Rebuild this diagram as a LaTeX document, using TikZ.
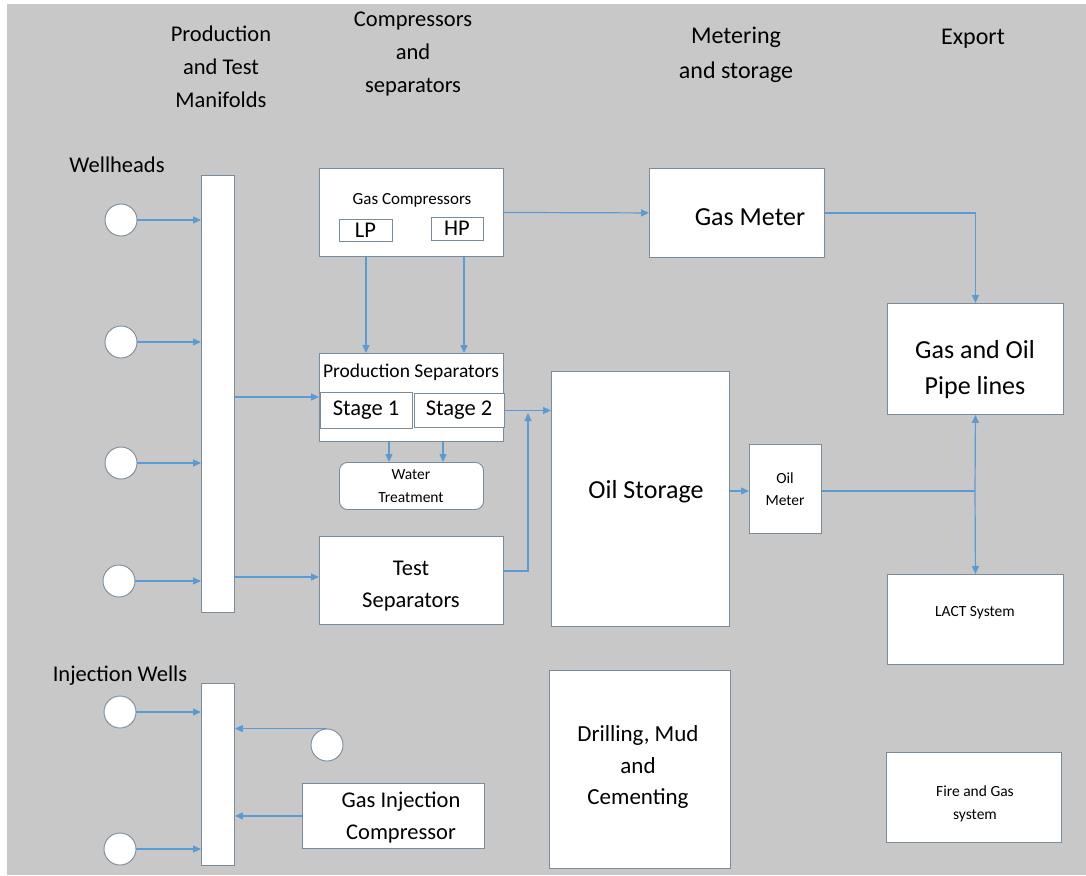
\documentclass[tikz,border=0pt]{standalone}
\usepackage{fontspec}
\setmainfont{Carlito}
\usetikzlibrary{arrows.meta,calc}
\definecolor{bgc}{HTML}{C8C8C8}
\definecolor{bordc}{HTML}{7A8B9A}
\definecolor{arrc}{HTML}{5B9BD5}
\begin{document}
\begin{tikzpicture}[x=1pt,y=-1pt,
  box/.style={draw=bordc, fill=white, line width=0.9pt, inner sep=0pt, anchor=north west},
  well/.style={circle, draw=bordc, fill=white, line width=0.9pt, minimum size=32pt, inner sep=0pt},
  flow/.style={draw=arrc, line width=1.2pt, -{Triangle[length=8pt,width=7pt]}},
  pipe/.style={draw=arrc, line width=1.2pt},
  hdr/.style={align=center, inner sep=0pt, font=\fontsize{22.5}{33}\selectfont},
  hdrb/.style={align=center, inner sep=0pt, font=\fontsize{24}{35}\selectfont},
  big/.style={align=center, inner sep=0pt, font=\fontsize{22.5}{32}\selectfont},
  huge/.style={align=center, inner sep=0pt, font=\fontsize{26}{36}\selectfont},
  mid/.style={align=center, inner sep=0pt, font=\fontsize{19.5}{26}\selectfont},
  small/.style={align=center, inner sep=0pt, font=\fontsize{15.5}{22.5}\selectfont},
]
\useasboundingbox (0,0) rectangle (1086,875);
\fill[white] (0,0) rectangle (1086,875);
\fill[bgc] (7,4) rectangle (1086,875);

% headers
\node[hdr] (hpm) at (221,67) {Production\\and Test\\Manifolds};
\node[hdr] (hcs) at (413,54) {Compressors\\and\\separators};
\node[hdrb] (hms) at (736,55) {Metering\\and storage};
\node[hdrb] (hex) at (973,39) {Export};
\node[hdr] (hwh) at (117,165) {Wellheads};
\node[hdr] (hiw) at (120,676) {Injection Wells};

% manifolds
\node[box, minimum width=33pt, minimum height=437pt] (man) at (201,175) {};
\node[box, minimum width=33pt, minimum height=182pt] (im) at (201,683) {};

% wellheads
\node[well] (w1) at (121,220) {};
\node[well] (w2) at (121,342) {};
\node[well] (w3) at (121,463) {};
\node[well] (w4) at (119,581) {};
\node[well] (i1) at (120,712) {};
\node[well] (i2) at (120,849) {};
\node[well] (rc) at (327,745) {};

% compressors
\node[box, minimum width=184pt, minimum height=88pt] (gc) at (319,168) {};
\node[mid, font=\fontsize{17}{20}\selectfont] (tgc) at (412,200) {Gas Compressors};
\node[box, minimum width=53pt, minimum height=22pt] (lp) at (339,219) {};
\node[big] (tlp) at (365.5,230) {LP};
\node[box, minimum width=52pt, minimum height=23pt] (hp) at (431,217) {};
\node[big] (thp) at (457,228.5) {HP};

% production separators
\node[box, minimum width=184pt, minimum height=88pt] (ps) at (319,353) {};
\node[mid] (tps) at (411,372) {Production Separators};
\node[box, minimum width=92pt, minimum height=36pt] (s1) at (320,392) {};
\node[big] (ts1) at (366,410) {Stage 1};
\node[box, minimum width=90pt, minimum height=34pt] (s2) at (414,393) {};
\node[big] (ts2) at (459,410) {Stage 2};

% water treatment
\node[box, rounded corners=8pt, minimum width=144pt, minimum height=47pt] (wt) at (339,462) {};
\node[small] (twt) at (411,486) {Water\\Treatment};

% test separators
\node[box, minimum width=184pt, minimum height=88pt] (ts) at (319,536) {};
\node[big] (tts) at (411,586) {Test\\Separators};

% gas meter
\node[box, minimum width=175pt, minimum height=89pt] (gm) at (649,168) {};
\node[huge] (tgm) at (750,217) {Gas Meter};

% oil storage
\node[box, minimum width=178pt, minimum height=255pt] (os) at (551,371) {};
\node[huge] (tos) at (646,492) {Oil Storage};

% oil meter
\node[box, minimum width=72pt, minimum height=89pt] (om) at (749,444) {};
\node[small] (tom) at (785,489) {Oil\\Meter};

% export
\node[box, minimum width=176pt, minimum height=111pt] (gp) at (887,303) {};
\node[huge] (tgp) at (975,370) {Gas and Oil\\Pipe lines};
\node[box, minimum width=176pt, minimum height=90pt] (lact) at (887,574) {};
\node[small] (tlact) at (975,613) {LACT System};
\node[box, minimum width=175pt, minimum height=90pt] (fg) at (886,752) {};
\node[small] (tfg) at (975,804) {Fire and Gas\\system};

% drilling
\node[box, minimum width=181pt, minimum height=198pt] (dm) at (549,670) {};
\node[big, font=\fontsize{23}{31.5}\selectfont] (tdm) at (638,767) {Drilling, Mud\\and\\Cementing};

% gas injection compressor
\node[box, minimum width=182pt, minimum height=65pt] (gic) at (302,783) {};
\node[big] (tgic) at (401,818) {Gas Injection\\Compressor};

% helper coordinates
\coordinate (a1) at (319,397);
\coordinate (a2) at (319,577);
\coordinate (tsout) at (503,571);
\coordinate (j1) at (528,413);
\coordinate (j2) at (975,491);
\coordinate (x1) at (366,0);
\coordinate (x2) at (464,0);
\coordinate (x3) at (389,0);
\coordinate (x4) at (443,0);

% connectors
\draw[flow] (w1.east) -- (w1.east -| man.west);
\draw[flow] (w2.east) -- (w2.east -| man.west);
\draw[flow] (w3.east) -- (w3.east -| man.west);
\draw[flow] (w4.east) -- (w4.east -| man.west);
\draw[flow] (man.east |- a1) -- (a1);
\draw[flow] (man.east |- a2) -- (a2);

\draw[flow] (gc.south -| x1) -- (ps.north -| x1);
\draw[flow] (gc.south -| x2) -- (ps.north -| x2);
\draw[flow] (ps.south -| x3) -- (wt.north -| x3);
\draw[flow] (ps.south -| x4) -- (wt.north -| x4);

\draw[flow] (tsout) -| (j1);
\draw[flow] (s2.east) -- (s2.east -| os.west);

\draw[flow] (gc.east) -- (gm.west);
\draw[flow] (gm.east) -| (gp.north);

\draw[flow] (os.east |- j2) -- (om.west |- j2);
\draw[pipe] (om.east |- j2) -- (j2);
\draw[flow] (j2) -- (gp.south);
\draw[flow] (j2) -- (lact.north);

\draw[flow] (i1.east) -- (i1.east -| im.west);
\draw[flow] (i2.east) -- (i2.east -| im.west);
\draw[flow] (rc.north) -- (rc.north -| im.east);
\draw[flow] (gic.west) -- (gic.west -| im.east);
\end{tikzpicture}
\end{document}
